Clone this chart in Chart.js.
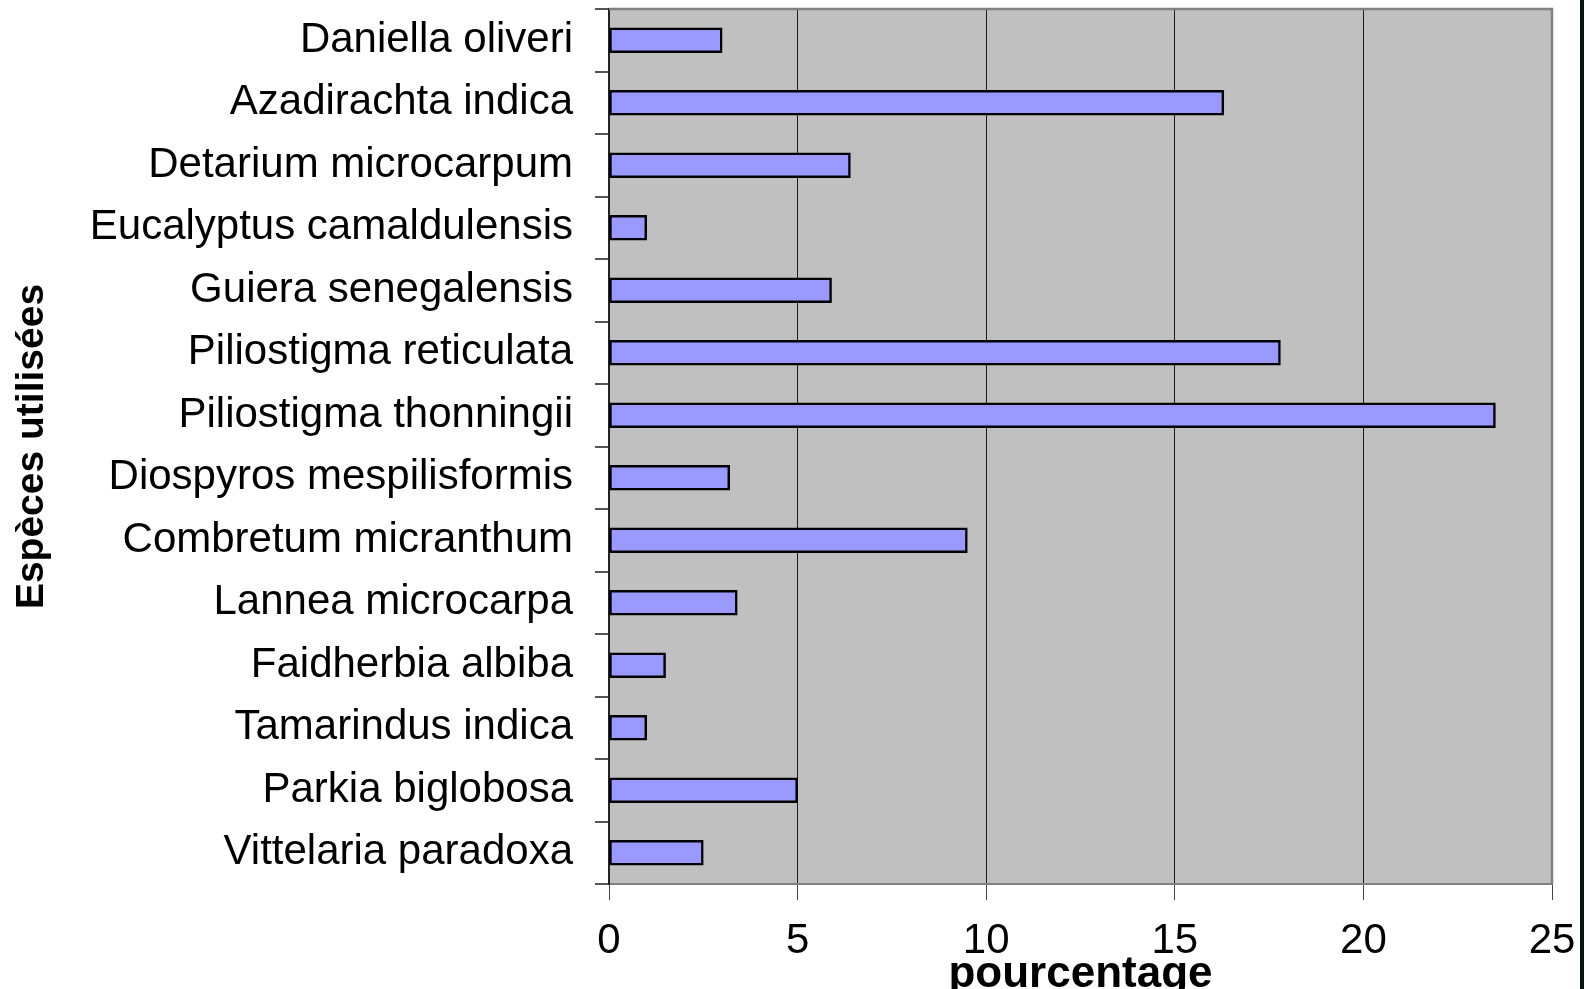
<!DOCTYPE html>
<html>
<head>
<meta charset="utf-8">
<script src="https://cdn.jsdelivr.net/npm/chart.js@4/dist/chart.umd.min.js"></script>
<style>
  html, body { margin: 0; padding: 0; background: #fff; overflow: hidden; }
  #wrap { position: absolute; left: 0; top: 0; width: 1585px; height: 989px; }
  #frame { position: absolute; left: 1580px; top: 0; width: 4px; height: 989px; background: #081414; }
</style>
</head>
<body>
<div id="wrap"><canvas id="c"></canvas></div>
<div id="frame"></div>
<script>
const categories = [
  'Daniella oliveri',
  'Azadirachta indica',
  'Detarium microcarpum',
  'Eucalyptus camaldulensis',
  'Guiera senegalensis',
  'Piliostigma reticulata',
  'Piliostigma thonningii',
  'Diospyros mespilisformis',
  'Combretum micranthum',
  'Lannea microcarpa',
  'Faidherbia albiba',
  'Tamarindus indica',
  'Parkia biglobosa',
  'Vittelaria paradoxa'
];
const percentages = [3.0, 16.3, 6.4, 1.0, 5.9, 17.8, 23.5, 3.2, 9.5, 3.4, 1.5, 1.0, 5.0, 2.5];
const xTickValues = [0, 5, 10, 15, 20, 25];
const xTitle = 'pourcentage';
const yTitle = 'Espèces utilisées';

const FONT = "'Liberation Sans', Arial, Helvetica, sans-serif";

const plotBg = {
  id: 'plotBg',
  beforeDraw(chart) {
    const {ctx, chartArea: a} = chart;
    ctx.save();
    ctx.fillStyle = '#C0C0C0';
    ctx.fillRect(a.left, a.top, a.right - a.left, a.bottom - a.top);
    ctx.restore();
  },
  afterDatasetsDraw(chart) {
    const {ctx, chartArea: a} = chart;
    ctx.save();
    ctx.strokeStyle = '#808080';
    ctx.lineWidth = 2.5;
    ctx.beginPath();
    ctx.moveTo(a.left, a.top);
    ctx.lineTo(a.right, a.top);
    ctx.lineTo(a.right, a.bottom);
    ctx.stroke();
    ctx.restore();
  }
};

new Chart(document.getElementById('c'), {
  type: 'bar',
  data: {
    labels: categories,
    datasets: [{
      data: percentages,
      backgroundColor: '#9999FF',
      borderColor: '#000000',
      borderWidth: 2.5,
      borderSkipped: false,
      barThickness: 25
    }]
  },
  options: {
    indexAxis: 'y',
    responsive: true,
    maintainAspectRatio: false,
    animation: false,
    layout: { padding: { left: 0, right: 33, top: 9, bottom: 0 } },
    plugins: {
      legend: { display: false },
      tooltip: { enabled: false }
    },
    scales: {
      x: {
        type: 'linear',
        min: 0,
        max: 25,
        afterBuildTicks(scale) { scale.ticks = xTickValues.map(v => ({ value: v })); },
        afterFit(scale) {
          scale.height = 105;
          scale.paddingLeft = 0;
          scale.paddingRight = 0;
        },
        grid: {
          color: '#1a1a1a',
          lineWidth: 1,
          drawTicks: true,
          tickLength: 16,
          tickColor: '#444'
        },
        border: { display: true, color: '#808080', width: 2 },
        ticks: {
          color: '#000',
          font: { family: FONT, size: 42 },
          padding: 16,
          maxRotation: 0,
          autoSkip: false
        },
        title: {
          display: true,
          text: xTitle,
          color: '#000',
          font: { family: FONT, size: 44, weight: 'bold', lineHeight: 1 },
          padding: { top: 0, bottom: -8 }
        }
      },
      y: {
        type: 'category',
        afterFit(scale) {
          scale.width = 609;
          scale.paddingTop = 0;
          scale.paddingBottom = 0;
        },
        grid: {
          offset: true,
          drawOnChartArea: false,
          drawTicks: true,
          tickLength: 14,
          tickColor: '#555',
          lineWidth: 2
        },
        border: { display: true, color: '#222', width: 2 },
        ticks: {
          color: '#000',
          font: { family: FONT, size: 42 },
          padding: 22,
          autoSkip: false
        },
        title: {
          display: true,
          text: yTitle,
          color: '#000',
          font: { family: FONT, size: 39, weight: 'bold', lineHeight: 1 },
          padding: { top: 13, bottom: 0 }
        }
      }
    }
  },
  plugins: [plotBg]
});
</script>
</body>
</html>
